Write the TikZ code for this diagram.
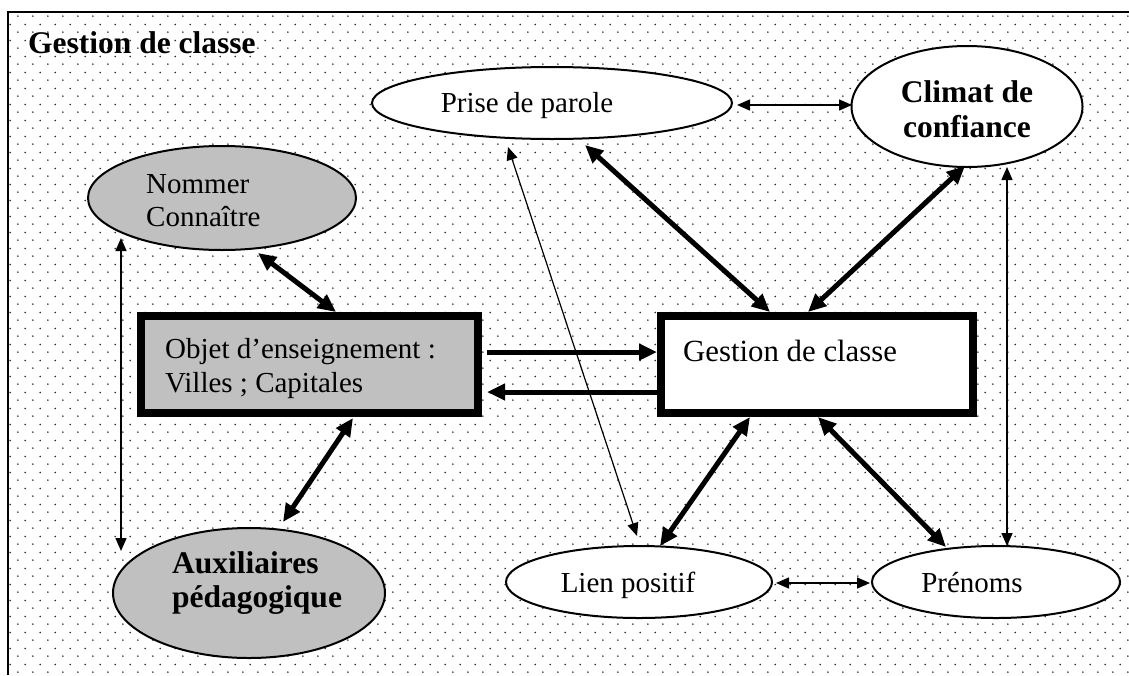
\documentclass[tikz,border=0pt]{standalone}
\usepackage{fontspec}
\setmainfont{Liberation Serif}
\usetikzlibrary{arrows.meta,shapes.geometric,calc,patterns}
\definecolor{boxgray}{HTML}{C0C0C0}
\definecolor{dotc}{HTML}{303030}
\pgfdeclarepatternformonly{mydots}{\pgfqpoint{0pt}{0pt}}{\pgfqpoint{15.33pt}{15.5pt}}{\pgfqpoint{15.33pt}{15.5pt}}{%
  \pgfpathcircle{\pgfqpoint{3pt}{3pt}}{0.95pt}%
  \pgfpathcircle{\pgfqpoint{10.665pt}{10.75pt}}{0.95pt}%
  \pgfusepath{fill}%
}
\tikzset{
  ell/.style={ellipse, draw, line width=2pt, inner sep=0pt},
  rbox/.style={rectangle, draw, line width=8pt, inner sep=0pt},
  txt/.style={font=\fontsize{29}{34}\selectfont, inner sep=0pt},
  btxt/.style={font=\fontsize{31.5}{37}\selectfont\bfseries, inner sep=0pt},
  bigarr/.style={line width=5pt, {Triangle[length=18pt,width=16pt]}-{Triangle[length=18pt,width=16pt]}},
  bigone/.style={line width=5pt, -{Triangle[length=18pt,width=16pt]}},
  thinarr/.style={line width=1.5pt, {Triangle[length=13pt,width=11pt]}-{Triangle[length=13pt,width=11pt]}},
}
\begin{document}
\begin{tikzpicture}[x=1pt,y=-1pt]
\useasboundingbox (0,0) rectangle (1129,675);
\fill[white] (0,0) rectangle (1129,675);
\fill[pattern=mydots, pattern color=dotc] (8,12) rectangle (1129,675);
\draw[line width=1.5pt] (8,675) -- (8,12) -- (1129,12);

\node[btxt, anchor=base west] (title) at (28,53) {Gestion de classe};

% ellipses
\node[ell, fill=white, minimum width=360pt, minimum height=72pt] (prise) at (552,103) {};
\node[txt, anchor=base] (priseT) at (527,112) {Prise de parole};

\node[ell, fill=white, minimum width=231pt, minimum height=121pt] (climat) at (967,106.5) {};
\node[btxt, anchor=base] (climatA) at (967,102) {Climat de};
\node[btxt, anchor=base] (climatB) at (967,137) {confiance};

\node[ell, fill=boxgray, minimum width=268pt, minimum height=104pt] (nommer) at (222,198) {};
\node[txt, anchor=base west] (nommerA) at (146,193) {Nommer};
\node[txt, anchor=base west] (nommerB) at (146,226) {Connaître};

\node[ell, fill=boxgray, minimum width=272pt, minimum height=130pt] (aux) at (249,593) {};
\node[btxt, anchor=base west] (auxA) at (172,573) {Auxiliaires};
\node[btxt, anchor=base west] (auxB) at (172,607) {pédagogique};

\node[ell, fill=white, minimum width=266pt, minimum height=72pt] (lien) at (639,582) {};
\node[txt, anchor=base] (lienT) at (628,592) {Lien positif};

\node[ell, fill=white, minimum width=248pt, minimum height=72pt] (prenoms) at (996,582) {};
\node[txt, anchor=base] (prenomsT) at (972,592) {Prénoms};

% boxes
\node[rbox, fill=boxgray, minimum width=337pt, minimum height=97pt] (objet) at (309.5,364.5) {};
\node[txt, anchor=base west] (objetA) at (165,358) {Objet d’enseignement :};
\node[txt, anchor=base west] (objetB) at (165,392) {Villes ; Capitales};

\node[rbox, fill=white, minimum width=312pt, minimum height=97pt] (gestion) at (817,364.5) {};
\node[txt, font=\fontsize{30.8}{36}\selectfont, anchor=base west] (gestionT) at (683,361) {Gestion de classe};

% thick connectors
\draw[bigarr] ($(nommer.center)+(36,55)$) -- ($(objet.center)+(26.5,-52.5)$);
\draw[bigarr] ($(objet.center)+(43.5,53.5)$) -- ($(aux.center)+(34,-71)$);
\draw[bigone] ($(objet.center)+(177.5,-12.5)$) -- ($(gestion.center)+(-160,-12.5)$);
\draw[bigone] ($(gestion.center)+(-160,27.5)$) -- ($(objet.center)+(177.5,27.5)$);
\draw[bigarr] ($(prise.center)+(33,42)$) -- ($(gestion.center)+(-47,-52.5)$);
\draw[bigarr] ($(climat.center)+(-2,59.5)$) -- ($(gestion.center)+(-9,-52.5)$);
\draw[bigarr] ($(gestion.center)+(-67,52.5)$) -- ($(lien.center)+(21,-36)$);
\draw[bigarr] ($(gestion.center)+(1,52.5)$) -- ($(prenoms.center)+(-50,-35)$);

% thin connectors
\draw[thinarr] ($(prise.center)+(185,2)$) -- ($(climat.center)+(-115,-1.5)$);
\draw[thinarr] ($(lien.center)+(137,1)$) -- ($(prenoms.center)+(-126,1)$);
\draw[thinarr] ($(climat.center)+(40,60.5)$) -- ($(prenoms.center)+(11,-36)$);
\draw[thinarr] ($(nommer.center)+(-101,40)$) -- ($(aux.center)+(-128,-42)$);
\draw[thinarr, line width=1.2pt] ($(prise.center)+(-44,44)$) -- ($(lien.center)+(-2,-46)$);
\end{tikzpicture}
\end{document}
